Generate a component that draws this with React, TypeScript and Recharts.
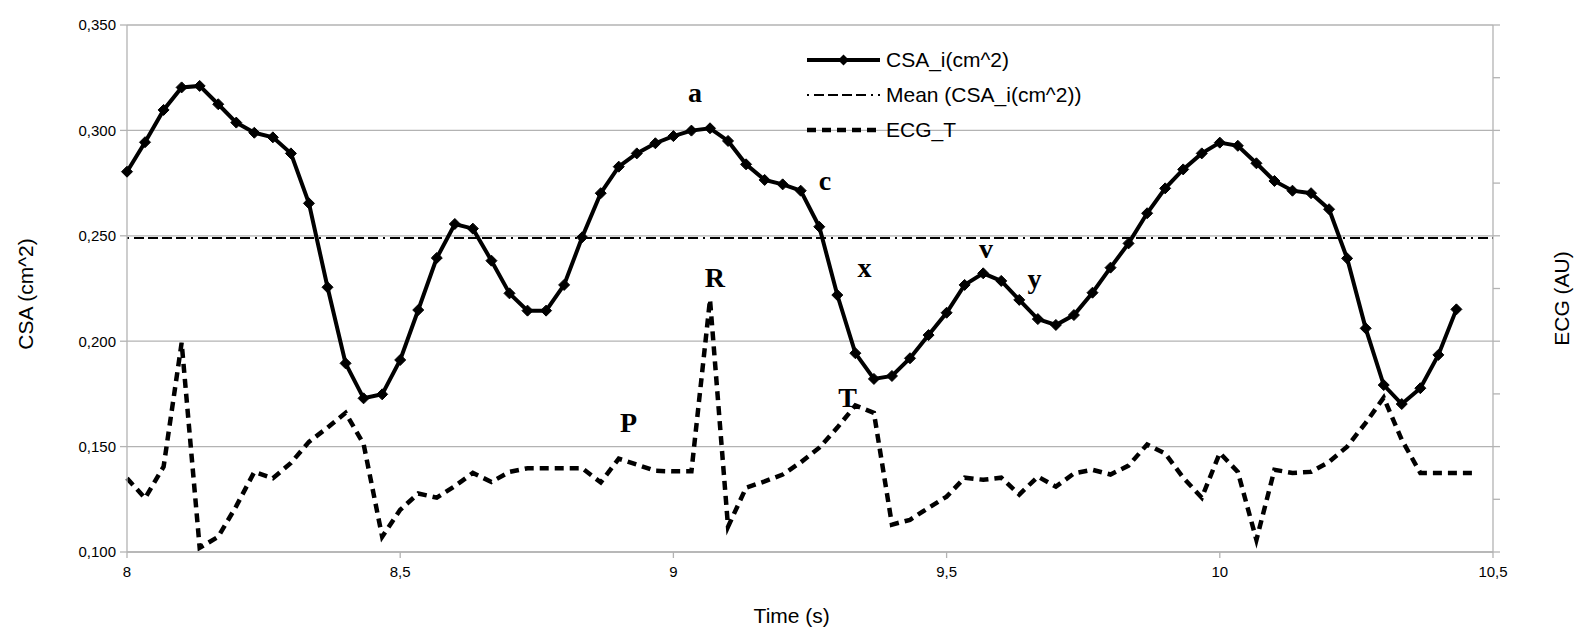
import React from 'react';
import { LineChart, Line, XAxis, YAxis, CartesianGrid, ReferenceLine, ReferenceDot, Legend, Label } from 'recharts';

const TIME = [
  8.000, 8.033, 8.067, 8.100, 8.133, 8.167, 8.200, 8.233, 8.267, 8.300,
  8.333, 8.367, 8.400, 8.433, 8.467, 8.500, 8.533, 8.567, 8.600, 8.633,
  8.667, 8.700, 8.733, 8.767, 8.800, 8.833, 8.867, 8.900, 8.933, 8.967,
  9.000, 9.033, 9.067, 9.100, 9.133, 9.167, 9.200, 9.233, 9.267, 9.300,
  9.333, 9.367, 9.400, 9.433, 9.467, 9.500, 9.533, 9.567, 9.600, 9.633,
  9.667, 9.700, 9.733, 9.767, 9.800, 9.833, 9.867, 9.900, 9.933, 9.967,
  10.000, 10.033, 10.067, 10.100, 10.133, 10.167, 10.200, 10.233, 10.267, 10.300,
  10.333, 10.367, 10.400, 10.433, 10.467,
];

const CSA = [
  0.2804, 0.2944, 0.3097, 0.3204, 0.3211, 0.3124, 0.3037, 0.2989, 0.2967, 0.2891,
  0.2654, 0.2256, 0.1895, 0.1729, 0.1748, 0.1911, 0.2148, 0.2395, 0.2556, 0.2534,
  0.2382, 0.2227, 0.2145, 0.2145, 0.2267, 0.2493, 0.2702, 0.2828, 0.2891, 0.2939,
  0.2973, 0.2999, 0.3010, 0.2950, 0.2839, 0.2765, 0.2744, 0.2714, 0.2543, 0.2219,
  0.1943, 0.1821, 0.1835, 0.1919, 0.2029, 0.2135, 0.2267, 0.2322, 0.2286, 0.2196,
  0.2105, 0.2077, 0.2124, 0.2230, 0.2349, 0.2464, 0.2607, 0.2725, 0.2815, 0.2891,
  0.2942, 0.2927, 0.2844, 0.2760, 0.2714, 0.2702, 0.2626, 0.2393, 0.2061, 0.1792,
  0.1702, 0.1777, 0.1935, 0.2151, null,
];

const ECG = [
  1.40, 1.02, 1.62, 3.97, 0.08, 0.29, 0.87, 1.52, 1.40, 1.69,
  2.09, 2.36, 2.64, 2.05, 0.29, 0.80, 1.11, 1.03, 1.25, 1.50,
  1.33, 1.52, 1.59, 1.59, 1.59, 1.59, 1.32, 1.77, 1.66, 1.54,
  1.53, 1.53, 4.79, 0.48, 1.22, 1.34, 1.47, 1.70, 1.98, 2.36,
  2.78, 2.64, 0.52, 0.61, 0.84, 1.05, 1.41, 1.37, 1.41, 1.09,
  1.43, 1.24, 1.49, 1.56, 1.47, 1.64, 2.04, 1.87, 1.41, 1.03,
  1.88, 1.52, 0.23, 1.56, 1.50, 1.52, 1.71, 2.00, 2.45, 2.93,
  2.13, 1.50, 1.50, 1.50, 1.50,
];

const CSA_MEAN = 0.249;

const X_TICKS = [8, 8.5, 9, 9.5, 10, 10.5];
const Y_TICKS = [0.1, 0.15, 0.2, 0.25, 0.3, 0.35];
const ECG_TICKS = [0, 1, 2, 3, 4, 5, 6, 7, 8, 9, 10];

const ANNO_TEXT = ['a', 'c', 'x', 'v', 'y', 'R', 'P', 'T'];
const ANNO_T = [9.0395, 9.2775, 9.3497, 9.572, 9.661, 9.076, 8.918, 9.3187];
const ANNO_V = [0.3135, 0.2717, 0.2305, 0.2393, 0.2252, 0.2259, 0.1571, 0.1689];

const LEGEND_NAMES = ['CSA_i(cm^2)', 'Mean (CSA_i(cm^2))', 'ECG_T'];

const data = TIME.map((t, i) => ({ t, csa: CSA[i], ecg: ECG[i] }));

const SANS = '"Liberation Sans", Arial, sans-serif';
const SERIF = '"Liberation Serif", "Times New Roman", serif';
const GRID = '#b3b3b3';
const MEAN_DASH = '2 5 10 4 10 4 10 4 10 5';
const ECG_DASH = '9 6';

const fmt = (v: number) => String(v).replace('.', ',');
const fmtY = (v: number) => v.toFixed(3).replace('.', ',');
const fmtNone = () => '';

const Diamond = (props: any) => {
  const { cx, cy, index } = props;
  if (cx == null || cy == null || isNaN(cx) || isNaN(cy)) return <g key={`d${index}`} />;
  const s = 5.5;
  return (
    <path
      key={`d${index}`}
      d={`M${cx},${cy - s}L${cx + s},${cy}L${cx},${cy + s}L${cx - s},${cy}Z`}
      fill="#000"
      stroke="#000"
    />
  );
};

const LegendContent = () => (
  <div style={{ fontFamily: SANS, fontSize: 21, color: '#000' }}>
    {LEGEND_NAMES.map((name, i) => (
      <div key={name} style={{ display: 'flex', alignItems: 'center', height: 35 }}>
        <svg width={73} height={20} style={{ marginRight: 6 }}>
          {i === 0 && (
            <g>
              <line x1={0} y1={10} x2={73} y2={10} stroke="#000" strokeWidth={4} />
              <path d="M36.5,4.5L42,10L36.5,15.5L31,10Z" fill="#000" />
            </g>
          )}
          {i === 1 && (
            <line x1={0} y1={10} x2={73} y2={10} stroke="#000" strokeWidth={2} strokeDasharray={MEAN_DASH} />
          )}
          {i === 2 && (
            <line x1={0} y1={10} x2={73} y2={10} stroke="#000" strokeWidth={4.5} strokeDasharray={ECG_DASH} />
          )}
        </svg>
        <span style={{ lineHeight: '35px', whiteSpace: 'nowrap' }}>{name}</span>
      </div>
    ))}
  </div>
);

const annoShape = (text: string) => (props: any) => (
  <text
    x={props.cx}
    y={props.cy}
    textAnchor="middle"
    fontFamily={SERIF}
    fontWeight="bold"
    fontSize={28}
    fill="#000"
  >
    {text}
  </text>
);

const LeftTitle = (p: any) => {
  const vb = p.viewBox || { x: 0, y: 17, width: 119, height: 527 };
  const x = vb.x + 25;
  const y = vb.y + vb.height / 2 + 5.5;
  return (
    <text x={x} y={y} transform={`rotate(-90 ${x} ${y})`} textAnchor="middle" fontFamily={SANS} fontSize={21} fill="#000">
      CSA (cm^2)
    </text>
  );
};

const RightTitle = (p: any) => {
  const vb = p.viewBox || { x: 1485, y: 17, width: 82, height: 527 };
  const x = vb.x + 76;
  const y = vb.y + vb.height / 2 + 10;
  return (
    <text x={x} y={y} transform={`rotate(-90 ${x} ${y})`} textAnchor="middle" fontFamily={SANS} fontSize={21} fill="#000">
      ECG (AU)
    </text>
  );
};

const BottomTitle = (p: any) => {
  const vb = p.viewBox || { x: 119, y: 544, width: 1366, height: 84 };
  const x = vb.x + 664.7;
  const y = vb.y + 71.3;
  return (
    <text x={x} y={y} textAnchor="middle" fontFamily={SANS} fontSize={21} fill="#000">
      Time (s)
    </text>
  );
};

export default function App() {
  return (
    <div style={{ width: 1567, height: 628 }}>
      <LineChart width={1567} height={628} data={data} margin={{ top: 17, right: 0, bottom: 0, left: 0 }}>
        <CartesianGrid vertical={false} stroke={GRID} strokeWidth={1.3} />
        <XAxis
          dataKey="t"
          type="number"
          domain={[8, 10.5]}
          ticks={X_TICKS}
          tickFormatter={fmt}
          height={84}
          tickSize={6}
          tickMargin={8}
          stroke={GRID}
          tick={{ fontSize: 15, fill: '#000', fontFamily: SANS }}
          axisLine={{ stroke: GRID, strokeWidth: 1.3 }}
          tickLine={{ stroke: GRID, strokeWidth: 1.3 }}
        >
          <Label content={BottomTitle} />
        </XAxis>
        <YAxis
          type="number"
          domain={[0.1, 0.35]}
          ticks={Y_TICKS}
          tickFormatter={fmtY}
          width={119}
          tickSize={7}
          tickMargin={4}
          tick={{ fontSize: 15, fill: '#000', fontFamily: SANS }}
          axisLine={{ stroke: GRID, strokeWidth: 1.3 }}
          tickLine={{ stroke: GRID, strokeWidth: 1.3 }}
        >
          <Label content={LeftTitle} />
        </YAxis>
        <YAxis
          yAxisId="r"
          orientation="right"
          type="number"
          domain={[0, 10]}
          ticks={ECG_TICKS}
          tickFormatter={fmtNone}
          width={82}
          tickSize={7}
          tick={{ fontSize: 1, fill: 'none' }}
          axisLine={{ stroke: GRID, strokeWidth: 1.3 }}
          tickLine={{ stroke: GRID, strokeWidth: 1.3 }}
        >
          <Label content={RightTitle} />
        </YAxis>
        <ReferenceLine y={CSA_MEAN} stroke="#000" strokeWidth={2} strokeDasharray={MEAN_DASH} />
        <Line
          yAxisId="r"
          dataKey="ecg"
          type="linear"
          stroke="#000"
          strokeWidth={4.5}
          strokeDasharray={ECG_DASH}
          dot={false}
          activeDot={false}
          isAnimationActive={false}
        />
        <Line
          dataKey="csa"
          type="linear"
          stroke="#000"
          strokeWidth={4}
          dot={Diamond}
          activeDot={false}
          isAnimationActive={false}
        />
        {ANNO_TEXT.map((txt, i) => (
          <ReferenceDot key={txt} x={ANNO_T[i]} y={ANNO_V[i]} r={1} shape={annoShape(txt)} />
        ))}
        <Legend
          layout="vertical"
          align="center"
          verticalAlign="middle"
          content={LegendContent}
          wrapperStyle={{ position: 'absolute', left: 799, top: 34, width: 'auto', height: 'auto' }}
        />
      </LineChart>
    </div>
  );
}
